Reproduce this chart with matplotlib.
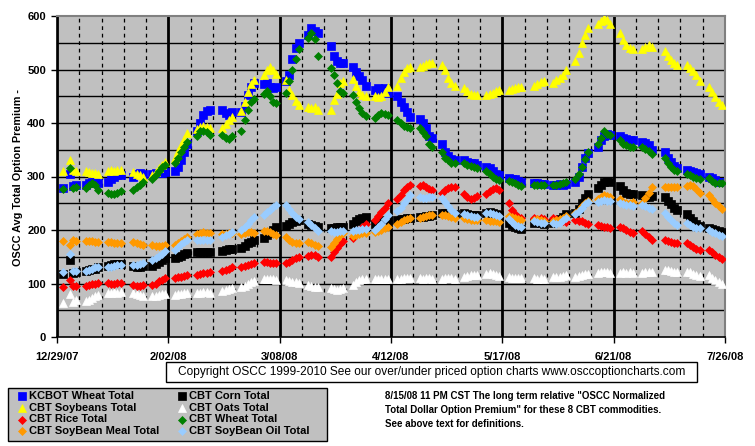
import matplotlib.pyplot as plt
import matplotlib.dates as mdates
from matplotlib.patches import Rectangle
from matplotlib.lines import Line2D
import pandas as pd

# trading days 12/31/07 - 7/25/08 (exchange holidays removed)
holidays = ['2008-01-01', '2008-01-21', '2008-02-18', '2008-03-21', '2008-05-26', '2008-07-04']
days = pd.bdate_range('2007-12-31', '2008-07-25')
days = days[~days.isin(pd.to_datetime(holidays))]

# one row per week
kcbot_wheat = [278, 305, 282, 284,  285, 288, 290, 290, 288,  290, 296, 300, 302, 303,  300, 305, 306, 305,
               304, 306, 306, 307, 308,  310, 318, 330, 345, 360,  385, 400, 415, 422, 425,  425, 418, 415, 420,
               420, 432, 452, 468, 474,  472, 475, 468, 465, 468,  478, 490, 520, 540, 550,  565, 578, 572, 568,
               543, 525, 515, 513, 512,  505, 495, 488, 480, 470,  462, 465, 462, 465, 456,  450, 440, 430, 420, 412,
               408, 400, 390, 375, 372,  360, 345, 338, 332, 330,  330, 328, 326, 325, 322,  318, 315, 310, 305, 302,
               298, 296, 295, 292, 290,  288, 287, 286, 286,  285, 284, 286, 285, 286,  290, 300, 318, 335, 343,
               355, 368, 375, 380, 378,  375, 372, 370, 368, 368,  365, 362, 358, 350,  345, 335, 328, 320, 315,
               312, 310, 308, 306, 304,  300, 297, 293, 290, 290]
corn = [118, 143, 120, 121,  123, 125, 127, 128, 130,  133, 135, 136, 137, 137,  132, 130, 131, 133,
        132, 136, 140, 144, 148,  148, 150, 152, 155, 157,  158, 158, 158, 158, 158,  160, 162, 164, 165,
        166, 170, 175, 178, 182,  185, 190, 195, 200, 205,  208, 212, 215, 217, 218,  212, 210, 208, 206,
        203, 204, 205, 205, 206,  212, 216, 220, 222, 224,  212, 214, 216, 218, 218,  218, 220, 221, 222, 222,
        224, 225, 226, 227, 228,  232, 232, 231, 230, 230,  232, 230, 228, 228, 228,  232, 233, 232, 230, 228,
        214, 210, 206, 203, 202,  214, 215, 213, 212,  214, 216, 220, 225, 230,  232, 240, 250, 260, 268,
        278, 285, 290, 292, 290,  282, 275, 270, 268, 268,  265, 262, 262, 263,  262, 255, 248, 242, 238,
        230, 222, 216, 212, 208,  204, 202, 200, 198, 197]
soybeans = [310, 330, 312, 310,  310, 308, 307, 306, 305,  310, 312, 310, 313, 312,  308, 305, 303, 300,
            302, 308, 315, 322, 328,  335, 348, 358, 370, 382,  388, 393, 395, 393, 390,  390, 398, 405, 412,
            423, 440, 458, 472, 480,  490, 500, 505, 500, 492,  480, 462, 452, 442, 433,  430, 428, 430, 425,
            425, 443, 455, 474, 478,  482, 470, 458, 452, 450,  450, 448, 450, 458, 468,  470, 485, 495, 502, 505,
            505, 507, 510, 512, 512,  508, 500, 485, 475, 470,  465, 460, 455, 452, 452,  453, 455, 457, 460, 462,
            462, 464, 465, 467, 468,  470, 473, 476, 478,  475, 480, 485, 490, 500,  515, 530, 550, 565, 578,
            585, 590, 597, 592, 585,  568, 555, 545, 540, 538,  538, 542, 545, 542,  535, 525, 518, 512, 508,
            508, 503, 498, 490, 478,  468, 458, 448, 440, 433]
oats = [63, 81, 66, 69,  68, 70, 73, 76, 78,  82, 82, 84, 83, 84,  82, 80, 78, 77,
        76, 77, 78, 80, 81,  78, 80, 81, 82, 83,  82, 83, 84, 84, 83,  86, 88, 90, 92,
        93, 96, 99, 102, 104,  108, 109, 108, 108, 107,  106, 104, 103, 102, 101,  98, 96, 94, 93,
        92, 90, 88, 89, 91,  98, 102, 106, 108, 108,  108, 108, 109, 109, 108,  108, 109, 110, 110, 110,
        110, 109, 110, 110, 109,  108, 110, 111, 110, 109,  112, 114, 116, 116, 115,  118, 119, 118, 116, 114,
        112, 111, 110, 110, 110,  110, 109, 110, 109,  112, 112, 113, 114, 115,  112, 114, 116, 117, 118,
        120, 122, 122, 121, 120,  120, 121, 120, 121, 120,  120, 121, 122, 122,  125, 126, 124, 122, 122,
        122, 121, 118, 116, 114,  115, 111, 107, 103, 100]
rice = [93, 107, 95, 95,  96, 97, 99, 100, 101,  101, 100, 100, 101, 101,  97, 96, 96, 97,
        97, 100, 104, 107, 110,  110, 112, 113, 114, 115,  115, 117, 119, 120, 121,  124, 126, 128, 130,
        130, 133, 135, 137, 138,  140, 140, 139, 138, 138,  138, 140, 143, 147, 150,  152, 154, 153, 150,
        150, 158, 166, 174, 180,  185, 192, 198, 205, 212,  218, 226, 234, 242, 250,  258, 266, 274, 280, 284,
        282, 285, 280, 276, 275,  270, 274, 278, 280, 281,  268, 262, 258, 260, 263,  268, 272, 276, 278, 275,
        250, 237, 230, 225, 222,  222, 220, 222, 220,  222, 220, 218, 216, 215,  218, 217, 216, 214, 212,
        210, 208, 206, 205, 204,  205, 204, 200, 197, 194,  198, 192, 186, 182,  182, 180, 178, 176, 175,
        176, 172, 168, 165, 162,  162, 158, 154, 150, 146]
cbt_wheat = [277, 316, 279, 280,  278, 285, 288, 284, 275,  270, 268, 267, 270, 272,  275, 280, 285, 290,
             295, 302, 310, 318, 322,  325, 335, 345, 355, 365,  375, 385, 385, 383, 378,  378, 372, 370, 375,
             385, 405, 425, 440, 445,  455, 460, 450, 440, 437,  456, 478, 500, 520, 538,  558, 568, 557, 525,
             503, 490, 475, 460, 456,  453, 440, 428, 418, 413,  410, 415, 418, 416, 415,  405, 400, 395, 392, 390,
             390, 383, 375, 360, 355,  345, 335, 330, 326, 325,  325, 322, 320, 318, 316,  310, 305, 300, 296, 293,
             292, 290, 288, 285, 282,  285, 285, 284, 285,  284, 285, 286, 287, 290,  295, 305, 318, 332, 346,
             360, 372, 385, 380, 378,  368, 360, 358, 356, 356,  355, 352, 348, 342,  335, 325, 318, 313, 310,
             305, 303, 300, 298, 296,  297, 292, 288, 287, 288]
meal = [179, 172, 181, 180,  180, 180, 179, 178, 177,  178, 177, 176, 175, 176,  178, 176, 174, 172,
        172, 170, 170, 171, 172,  172, 176, 180, 183, 186,  192, 195, 196, 195, 194,  192, 193, 194, 194,
        193, 195, 196, 196, 195,  198, 198, 196, 193, 190,  186, 182, 178, 176, 175,  178, 175, 172, 170,
        168, 175, 183, 190, 195,  188, 190, 192, 194, 195,  196, 198, 200, 203, 206,  212, 215, 218, 220, 222,
        222, 224, 226, 228, 228,  228, 228, 226, 224, 223,  222, 220, 218, 218, 219,  218, 217, 216, 216, 215,
        227, 225, 222, 220, 218,  218, 220, 218, 216,  216, 218, 220, 223, 226,  232, 238, 245, 250, 255,
        258, 262, 265, 264, 262,  258, 253, 250, 250, 252,  250, 260, 270, 280,  280, 281, 280, 281, 280,
        282, 284, 282, 276, 270,  265, 258, 250, 245, 240]
oil = [121, 156, 123, 123,  124, 126, 128, 130, 131,  130, 131, 132, 134, 134,  134, 135, 137, 138,
       143, 148, 152, 156, 160,  162, 168, 173, 178, 182,  181, 182, 182, 181, 181,  186, 190, 193, 196,
       200, 206, 212, 218, 224,  228, 233, 238, 243, 247,  246, 240, 232, 225, 220,  215, 210, 204, 199,
       198, 196, 197, 198, 199,  198, 200, 200, 201, 202,  200, 205, 212, 220, 228,  235, 242, 250, 258, 265,
       262, 260, 260, 262, 262,  260, 252, 245, 238, 232,  230, 228, 226, 225, 225,  232, 232, 230, 228, 226,
       220, 215, 210, 207, 205,  216, 215, 214, 214,  214, 212, 214, 218, 222,  230, 236, 242, 248, 252,
       252, 255, 256, 255, 254,  250, 248, 246, 246, 245,  246, 244, 242, 240,  232, 225, 218, 213, 210,
       213, 210, 206, 204, 203,  200, 197, 194, 191, 189]

series = [
    ('KCBOT Wheat Total', kcbot_wheat, 's', '#0000FF', 5.5),
    ('CBT Corn Total', corn, 's', '#000000', 5.5),
    ('CBT Soybeans Total', soybeans, '^', '#FFFF00', 6),
    ('CBT Oats Total', oats, '^', '#FFFFFF', 6),
    ('CBT Rice Total', rice, 'D', '#FF0000', 3.8),
    ('CBT Wheat Total', cbt_wheat, 'D', '#008000', 3.8),
    ('CBT SoyBean Meal Total', meal, 'D', '#FF9900', 3.8),
    ('CBT SoyBean Oil Total', oil, 'D', '#99CCFF', 3.8),
]

major_dates = pd.date_range('2007-12-29', '2008-07-26', freq='35D')
week_dates = pd.date_range('2007-12-29', '2008-07-26', freq='7D')

bold = dict(family=['Liberation Sans', 'DejaVu Sans'], weight='bold')

fig = plt.figure(figsize=(7.55, 4.46), dpi=100)
ax = fig.add_axes([57 / 755, 1 - 337 / 446, 668 / 755, 321 / 446])
ax.set_facecolor('#C0C0C0')

for y in range(50, 600, 50):
    ax.axhline(y, color='black', lw=1, zorder=1)
for d in week_dates:
    if d in major_dates:
        ax.axvline(d, color='black', lw=2, zorder=1)
    else:
        ax.axvline(d, color='black', lw=0.9, dashes=(3, 3), zorder=1)

for i, (name, vals, m, c, ms) in enumerate(series):
    ax.plot(days, vals, linestyle='none', marker=m, ms=ms, mfc=c, mec=c, mew=0.5, zorder=2 + i)

ax.set_xlim(major_dates[0], major_dates[-1])
ax.set_ylim(0, 600)
ax.set_yticks(range(0, 601, 100))
ax.set_xticks(major_dates)
ax.set_xticklabels([f"{d.month}/{d.day:02d}/{d.year % 100:02d}" for d in major_dates])
ax.tick_params(axis='both', length=4, width=1, color='black', pad=4)
ax.tick_params(axis='x', pad=7)
for lbl in ax.get_xticklabels() + ax.get_yticklabels():
    lbl.set_fontsize(8)
    lbl.set_fontfamily(bold['family'])
    lbl.set_fontweight('bold')
for s in ['top', 'right']:
    ax.spines[s].set_color('#808080')
    ax.spines[s].set_linewidth(1.5)
for s in ['left', 'bottom']:
    ax.spines[s].set_color('black')
    ax.spines[s].set_linewidth(1.2)

fig.text(18 / 755, 1 - 178 / 446, 'OSCC Avg Total Option Premium -', rotation=90,
         ha='center', va='center', fontsize=7.8, **bold)

# copyright box
fig.patches.append(Rectangle((166 / 755, 1 - 382 / 446), 531 / 755, 20 / 446, transform=fig.transFigure,
                             facecolor='white', edgecolor='black', lw=1))
fig.text(431.5 / 755, 1 - 372 / 446,
         'Copyright OSCC 1999-2010 See our over/under priced option charts www.osccoptioncharts.com',
         ha='center', va='center', fontsize=8.6, family=['Liberation Sans', 'DejaVu Sans'])

# legend box
fig.patches.append(Rectangle((8 / 755, 1 - 441 / 446), 319 / 755, 53 / 446, transform=fig.transFigure,
                             facecolor='#C0C0C0', edgecolor='black', lw=1))
row_y = [396, 408, 419.5, 431]
col_x = [22, 182]
for i, (name, vals, m, c, ms) in enumerate(series):
    r, col = i // 2, i % 2
    fy = 1 - row_y[r] / 446
    fig.add_artist(Line2D([col_x[col] / 755], [fy], transform=fig.transFigure, linestyle='none',
                          marker=m, ms=ms, mfc=c, mec=c, mew=0.5))
    fig.text((col_x[col] + 7) / 755, fy, name, ha='left', va='center', fontsize=8, **bold)

notes = ['8/15/08 11 PM CST The long term relative "OSCC Normalized',
         'Total Dollar Option Premium" for these 8 CBT commodities.',
         'See above text for definitions.']
for k, line in enumerate(notes):
    fig.text(385 / 755, 1 - (396 + 14 * k) / 446, line, ha='left', va='center', fontsize=7, **bold)

fig.savefig('out.png', dpi=100)
